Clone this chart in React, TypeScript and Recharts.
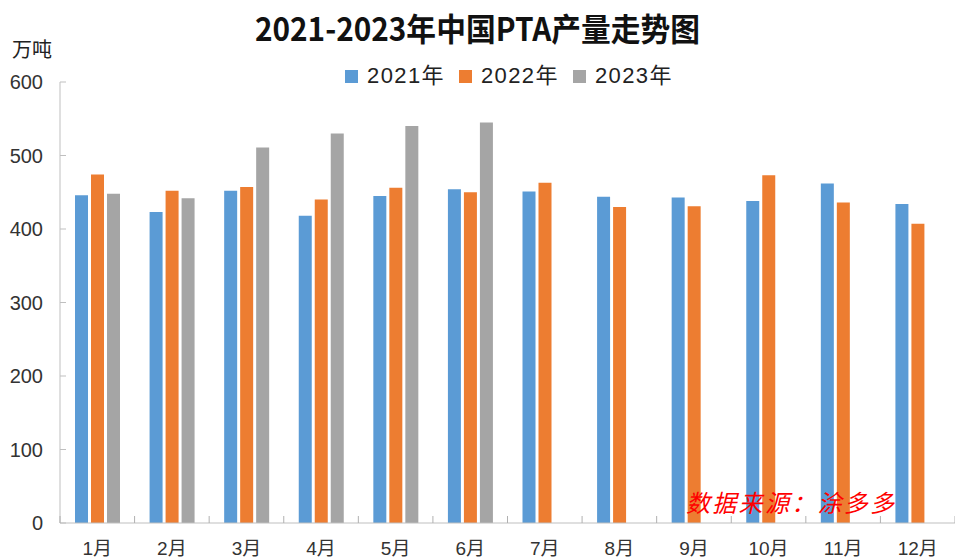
import { BarChart, Bar, XAxis, YAxis } from 'recharts'

const months = ['1月', '2月', '3月', '4月', '5月', '6月', '7月', '8月', '9月', '10月', '11月', '12月']
const output2021 = [446, 423, 452, 418, 445, 454, 451, 444, 443, 438, 462, 434]
const output2022 = [474, 452, 457, 440, 456, 450, 463, 430, 431, 473, 436, 407]
const output2023 = [448, 442, 511, 530, 540, 545, null, null, null, null, null, null]
const yTicks = [0, 100, 200, 300, 400, 500, 600]
const seriesNames = ['2021年', '2022年', '2023年']
const seriesColors = ['#5B9BD5', '#ED7D31', '#A5A5A5']

const chartData = months.map((month, i) => ({
  month,
  y2021: output2021[i],
  y2022: output2022[i],
  y2023: output2023[i],
}))

const chartWidth = 955
const chartHeight = 559
const yAxisWidth = 60
const axisColor = '#BFBFBF'
const latin = '"Liberation Sans", Arial, "Noto Sans CJK SC", sans-serif'
const cjk = '"Noto Sans CJK SC", "Liberation Sans", sans-serif'
const labelGap = 19

// month label plus the small tick marks that sit between categories (Excel style)
function MonthTick(props: any) {
  const { x, y, payload, index } = props
  const half = (chartWidth - yAxisWidth) / months.length / 2
  const axisY = y - labelGap
  return (
    <g>
      <line x1={x - half} x2={x - half} y1={axisY} y2={axisY - 7} stroke="#B0B0B0" />
      {index === months.length - 1 && (
        <line x1={x + half} x2={x + half} y1={axisY} y2={axisY - 7} stroke="#B0B0B0" />
      )}
      <text x={x} y={y} dy="0.71em" textAnchor="middle" fontSize={19} fill="#333" fontFamily={latin}>
        {payload.value}
      </text>
    </g>
  )
}

function LegendRow() {
  return (
    <div style={{ position: 'absolute', top: 65, left: 345, fontFamily: latin, fontSize: 22, lineHeight: '22px', color: '#222', whiteSpace: 'nowrap' }}>
      {seriesNames.map((name, i) => (
        <span key={name} style={{ marginRight: 14 }}>
          <span style={{ width: 13, height: 13, background: seriesColors[i], marginRight: 9, display: 'inline-block', verticalAlign: 'baseline' }} />
          <span style={{ letterSpacing: 1.4 }}>{name}</span>
        </span>
      ))}
    </div>
  )
}

export default function App() {
  return (
    <div style={{ position: 'absolute', left: 0, top: 0, width: chartWidth, height: chartHeight, background: '#fff', overflow: 'hidden' }}>
      <div
        style={{
          position: 'absolute',
          top: 11,
          left: 0,
          width: chartWidth,
          textAlign: 'center',
          fontFamily: cjk,
          fontWeight: 700,
          fontSize: 32,
          lineHeight: '32px',
          color: '#111',
          transform: 'scaleX(0.93)',
        }}
      >
        2021-2023年中国PTA产量走势图
      </div>
      <div style={{ position: 'absolute', top: 34, left: 12, fontFamily: cjk, fontSize: 20, color: '#222' }}>万吨</div>
      <LegendRow />
      <BarChart width={chartWidth} height={chartHeight} data={chartData} margin={{ top: 82, right: 0, left: 0, bottom: 0 }} barSize={13} barGap={3}>
        <XAxis
          dataKey="month"
          height={36}
          axisLine={{ stroke: axisColor }}
          tickLine={false}
          tickSize={0}
          tickMargin={labelGap}
          interval={0}
          tick={<MonthTick />}
        />
        <YAxis
          domain={[0, 600]}
          ticks={yTicks}
          width={yAxisWidth}
          axisLine={{ stroke: axisColor }}
          tickLine={{ stroke: axisColor }}
          tickSize={-6}
          tickMargin={23}
          tick={{ fontSize: 20, fill: '#333', fontFamily: latin }}
        />
        <Bar dataKey="y2021" name={seriesNames[0]} fill={seriesColors[0]} isAnimationActive={false} />
        <Bar dataKey="y2022" name={seriesNames[1]} fill={seriesColors[1]} isAnimationActive={false} />
        <Bar dataKey="y2023" name={seriesNames[2]} fill={seriesColors[2]} isAnimationActive={false} />
      </BarChart>
      <div style={{ position: 'absolute', top: 484, left: 686, zIndex: 2, fontFamily: cjk, fontSize: 24, fontStyle: 'italic', color: '#FF0000', letterSpacing: 2.3 }}>
        数据来源：涂多多
      </div>
    </div>
  )
}
